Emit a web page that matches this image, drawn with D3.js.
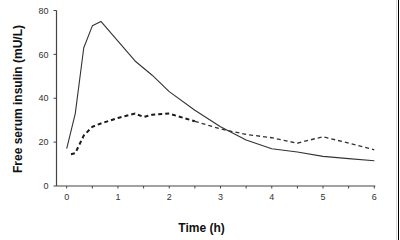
<!DOCTYPE html>
<html>
<head>
<meta charset="utf-8">
<script src="https://cdn.jsdelivr.net/npm/d3@7"></script>
<style>
  body { margin: 0; background: #fff; }
  svg { display: block; font-family: "Liberation Sans", Arial, sans-serif; }
</style>
</head>
<body>
<svg id="chart" width="400" height="240"></svg>
<script>
// time points (h) and free serum insulin (mU/L)
const solidTimes = [0, 0.167, 0.333, 0.5, 0.667, 1, 1.333, 1.667, 2, 2.5, 3, 3.5, 4, 4.5, 5, 5.5, 6];
const solidValues = [17, 33, 63, 73, 75, 66, 57, 50.5, 43, 34.5, 27, 21, 17, 15.5, 13.5, 12.5, 11.5];

const dashedTimes = [0.083, 0.167, 0.333, 0.5, 0.667, 1, 1.333, 1.5, 1.667, 2, 2.5, 3, 3.5, 4, 4.5, 5, 5.5, 6];
const dashedValues = [14.5, 15, 23, 27, 28.5, 31, 33, 31.5, 32.5, 33, 29.5, 26, 23.5, 22, 19.5, 22.5, 19.5, 16.5];

const xTicks = [0, 1, 2, 3, 4, 5, 6];
const xMinorTicks = [0, 0.5, 1, 1.5, 2, 2.5, 3, 3.5, 4, 4.5, 5, 5.5, 6];
const yTicks = [0, 20, 40, 60, 80];

const svg = d3.select('#chart');
const axisColor = '#444';

const x = d3.scaleLinear().domain([0, 6]).range([66.7, 374.3]);
const y = d3.scaleLinear().domain([0, 80]).range([186, 10.5]);
const axisLeftX = 56.5;

// x axis: half-hour tick marks, labels on whole hours
const xAxis = svg.append('g').attr('transform', 'translate(0,186)');
xAxis.append('line')
  .attr('x1', axisLeftX).attr('x2', x(6) + 1)
  .attr('stroke', axisColor).attr('stroke-width', 1.2);
xAxis.selectAll('line.tick')
  .data(xMinorTicks)
  .join('line')
    .attr('class', 'tick')
    .attr('x1', d => x(d)).attr('x2', d => x(d))
    .attr('y1', 0).attr('y2', 2.5)
    .attr('stroke', axisColor);
xAxis.selectAll('text')
  .data(xTicks)
  .join('text')
    .attr('x', d => x(d))
    .attr('y', 13.5)
    .attr('text-anchor', 'middle')
    .attr('font-size', 9)
    .attr('fill', '#333')
    .text(d => d);

// y axis
const yAxis = svg.append('g').attr('transform', `translate(${axisLeftX},0)`);
yAxis.append('line')
  .attr('y1', y(80)).attr('y2', y(0))
  .attr('stroke', axisColor).attr('stroke-width', 1.2);
yAxis.selectAll('line.tick')
  .data(yTicks)
  .join('line')
    .attr('class', 'tick')
    .attr('x1', -3).attr('x2', 0)
    .attr('y1', d => y(d)).attr('y2', d => y(d))
    .attr('stroke', axisColor);
yAxis.selectAll('text')
  .data(yTicks)
  .join('text')
    .attr('x', -8)
    .attr('y', d => y(d))
    .attr('dy', '0.35em')
    .attr('text-anchor', 'end')
    .attr('font-size', 9)
    .attr('fill', '#333')
    .text(d => d);

// axis titles
svg.append('text')
  .attr('x', 201.5).attr('y', 232)
  .attr('text-anchor', 'middle')
  .attr('font-size', 12).attr('font-weight', 'bold')
  .attr('fill', '#111')
  .text('Time (h)');

svg.append('text')
  .attr('transform', 'translate(22,99) rotate(-90)')
  .attr('text-anchor', 'middle')
  .attr('font-size', 12).attr('font-weight', 'bold')
  .attr('fill', '#111')
  .text('Free serum insulin (mU/L)');

// series
const line = d3.line()
  .x(d => x(d[0]))
  .y(d => y(d[1]));

svg.append('path')
  .datum(d3.zip(solidTimes, solidValues))
  .attr('fill', 'none')
  .attr('stroke', '#333')
  .attr('stroke-width', 1.1)
  .attr('stroke-linejoin', 'round')
  .attr('d', line);

// dashed series: heavier dashes early on, lighter after ~2.5 h as in the scan
const dashed = d3.zip(dashedTimes, dashedValues);
svg.append('path')
  .datum(dashed.filter(d => d[0] <= 2.5))
  .attr('fill', 'none')
  .attr('stroke', '#1a1a1a')
  .attr('stroke-width', 2)
  .attr('stroke-dasharray', '4,3')
  .attr('d', line);
svg.append('path')
  .datum(dashed.filter(d => d[0] >= 2.5))
  .attr('fill', 'none')
  .attr('stroke', '#333')
  .attr('stroke-width', 1.3)
  .attr('stroke-dasharray', '4,3')
  .attr('d', line);

// right frame edge
svg.append('line')
  .attr('x1', 396.5).attr('x2', 396.5).attr('y1', 0).attr('y2', 240)
  .attr('stroke', '#ddd');
svg.append('line')
  .attr('x1', 398.5).attr('x2', 398.5).attr('y1', 0).attr('y2', 240)
  .attr('stroke', '#000');
</script>
</body>
</html>
